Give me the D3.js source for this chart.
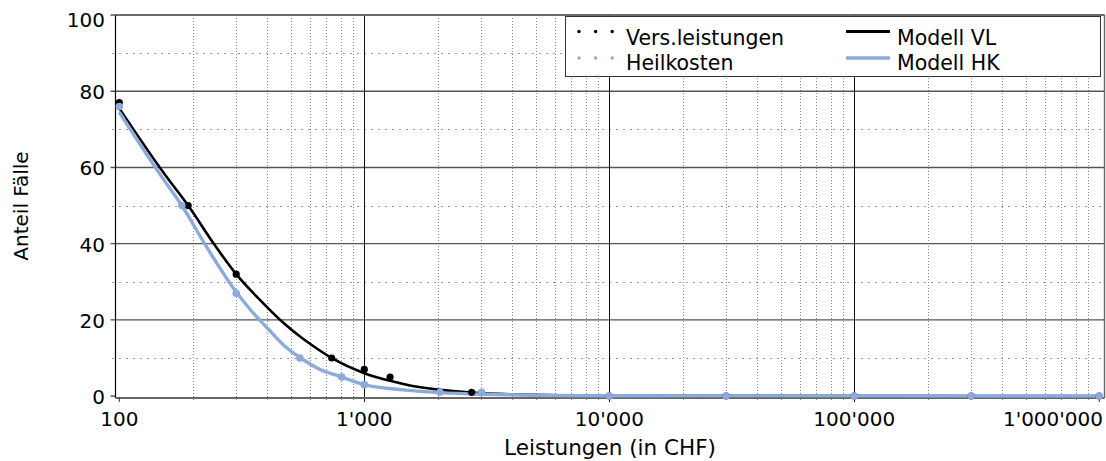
<!DOCTYPE html>
<html>
<head>
<meta charset="utf-8">
<script src="https://cdn.jsdelivr.net/npm/d3@7.9.0/dist/d3.min.js"></script>
<style>
    html, body { margin: 0; padding: 0; background: #fff; }
    svg { display: block; font-family: Verdana, "DejaVu Sans", sans-serif; }
</style>
</head>
<body>
<svg id="chart" width="1106" height="461"></svg>
<script>
// observed shares (Anteil Fälle, %) per amount
var obsVLx = [100, 191, 300, 736, 1000, 1274, 2742, 10000, 30000, 100000, 300000, 1000000]
var obsVLy = [77, 50, 32, 10, 7, 5, 1, 0, 0, 0, 0, 0]
var obsHKx = [100, 180, 300, 546, 809, 1000, 2036, 3012, 10000, 30000, 100000, 300000, 1000000]
var obsHKy = [76, 50, 27, 10, 5, 3, 1, 1, 0, 0, 0, 0, 0]

// fitted model curves
var modelVLx = [100, 154, 191, 246, 300, 381, 466, 550, 640, 736, 1000, 1274, 1537, 2000, 2742, 4000, 10000, 1000000]
var modelVLy = [75.5, 58, 50, 39.5, 32, 24.8, 19.3, 15.5, 12.5, 10, 6, 4.0, 2.8, 1.7, 0.9, 0.45, 0.1, 0]
var modelHKx = [100, 151, 180, 223, 300, 350, 400, 470, 550, 650, 809, 1000, 1400, 2036, 3012, 10000, 1000000]
var modelHKy = [74.5, 57, 50, 40, 27.3, 22, 18, 13.3, 10, 7.2, 5, 3, 1.7, 0.9, 0.5, 0.1, 0]

var xTicks = [100, 1000, 10000, 100000, 1000000]
var xTickLabels = ["100", "1'000", "10'000", "100'000", "1'000'000"]
var yTicks = [0, 20, 40, 60, 80, 100]
var yMinor = [10, 30, 50, 70, 90]

var legendItems = [
    { label: 'Vers.leistungen', kind: 'dots', color: '#000' },
    { label: 'Heilkosten', kind: 'dots', color: '#8eaadb' },
    { label: 'Modell VL', kind: 'line', color: '#000' },
    { label: 'Modell HK', kind: 'line', color: '#8eaadb' }
]

var BLUE = '#8eaadb'
var L = 115.5, R = 1104.5, T = 15, B = 398

var svg = d3.select('#chart')
var x = d3.scaleLog().domain([96.5, 1050000]).range([L, R])
var y = d3.scaleLinear().domain([-0.5, 100]).range([B, T])

function zip(xs, ys) {
    return xs.map(function (v, i) { return [v, ys[i]] })
}

// minor x positions 2..9 per decade
var xMinor = []
xTicks.forEach(function (d) {
    for (var k = 2; k <= 9; k++) {
        var v = d * k
        if (v < x.domain()[1]) xMinor.push(v)
    }
})

var grid = svg.append('g')

grid.selectAll('.xminor').data(xMinor).enter().append('line')
    .attr('x1', function (d) { return Math.round(x(d)) + 0.5 })
    .attr('x2', function (d) { return Math.round(x(d)) + 0.5 })
    .attr('y1', T).attr('y2', B + 3)
    .attr('stroke', '#8a8a8a').attr('stroke-width', 1)
    .attr('stroke-dasharray', '1,2')

grid.selectAll('.yminor').data(yMinor).enter().append('line')
    .attr('x1', L - 3).attr('x2', R)
    .attr('y1', function (d) { return Math.round(y(d)) + 0.5 })
    .attr('y2', function (d) { return Math.round(y(d)) + 0.5 })
    .attr('stroke', '#333').attr('stroke-width', 1)
    .attr('stroke-dasharray', '1,6')

grid.selectAll('.ymajor').data(yTicks.slice(1)).enter().append('line')
    .attr('x1', L - 5).attr('x2', R)
    .attr('y1', function (d) { return y(d) })
    .attr('y2', function (d) { return y(d) })
    .attr('stroke', '#555').attr('stroke-width', 1.4)

grid.selectAll('.xmajor').data(xTicks.slice(1, 4)).enter().append('line')
    .attr('x1', function (d) { return Math.round(x(d)) + 0.5 })
    .attr('x2', function (d) { return Math.round(x(d)) + 0.5 })
    .attr('y1', T).attr('y2', B + 4)
    .attr('stroke', '#111').attr('stroke-width', 1)

// frame
svg.append('line').attr('x1', L).attr('x2', L).attr('y1', T).attr('y2', B)
    .attr('stroke', '#000').attr('stroke-width', 1.2)
svg.append('line').attr('x1', R).attr('x2', R).attr('y1', T).attr('y2', B)
    .attr('stroke', '#666').attr('stroke-width', 1.4)
svg.append('line').attr('x1', L).attr('x2', R).attr('y1', T).attr('y2', T)
    .attr('stroke', '#666').attr('stroke-width', 1.4)
svg.append('line').attr('x1', L).attr('x2', R).attr('y1', B).attr('y2', B)
    .attr('stroke', '#666').attr('stroke-width', 1.8)

// y zero tick + x end ticks
svg.append('line').attr('x1', L - 5).attr('x2', L).attr('y1', y(0)).attr('y2', y(0))
    .attr('stroke', '#333').attr('stroke-width', 1.2)
svg.selectAll('.xend').data([xTicks[0], xTicks[4]]).enter().append('line')
    .attr('x1', function (d) { return x(d) }).attr('x2', function (d) { return x(d) })
    .attr('y1', B).attr('y2', B + 4)
    .attr('stroke', '#333').attr('stroke-width', 1)

// model curves
var line = d3.line()
    .x(function (d) { return x(d[0]) })
    .y(function (d) { return y(d[1]) })
    .curve(d3.curveMonotoneX)

svg.append('path').datum(zip(modelVLx, modelVLy))
    .attr('d', line).attr('fill', 'none')
    .attr('stroke', '#000').attr('stroke-width', 2.6)
svg.append('path').datum(zip(modelHKx, modelHKy))
    .attr('d', line).attr('fill', 'none')
    .attr('stroke', BLUE).attr('stroke-width', 3.4)

// observed points
svg.append('g').selectAll('circle').data(zip(obsVLx, obsVLy)).enter().append('circle')
    .attr('cx', function (d) { return x(d[0]) })
    .attr('cy', function (d) { return y(d[1]) })
    .attr('r', 3.6).attr('fill', '#000')
svg.append('g').selectAll('circle').data(zip(obsHKx, obsHKy)).enter().append('circle')
    .attr('cx', function (d) { return x(d[0]) })
    .attr('cy', function (d) { return y(d[1]) })
    .attr('r', 3.8).attr('fill', BLUE)

// y labels
svg.append('g').selectAll('text').data(yTicks).enter().append('text')
    .attr('x', 105)
    .attr('y', function (d) { return Math.max(y(d) + 8, 27) })
    .attr('text-anchor', 'end')
    .attr('font-size', 20)
    .attr('fill', '#000')
    .text(function (d) { return d })

// x labels, last one kept inside the window
var xl = svg.append('g').selectAll('text').data(xTicks).enter().append('text')
    .attr('y', 426)
    .attr('text-anchor', 'middle')
    .attr('font-size', 20)
    .attr('fill', '#000')
    .text(function (d, i) { return xTickLabels[i] })
xl.attr('x', function (d) {
    var w = this.getComputedTextLength()
    return Math.min(x(d), 1103 - w / 2)
})

svg.append('text')
    .attr('x', 610).attr('y', 455)
    .attr('text-anchor', 'middle').attr('font-size', 21.5)
    .text('Leistungen (in CHF)')

svg.append('text')
    .attr('transform', 'translate(28,206) rotate(-90)')
    .attr('text-anchor', 'middle').attr('font-size', 20)
    .text('Anteil Fälle')

// legend
var lg = svg.append('g')
lg.append('rect').attr('x', 565.5).attr('y', 16.5).attr('width', 535).attr('height', 60)
    .attr('fill', '#fff').attr('stroke', '#333').attr('stroke-width', 1)

legendItems.forEach(function (it, i) {
    var col = Math.floor(i / 2), row = i % 2
    var sx = col === 0 ? 579 : 846
    var sy = row === 0 ? 31.5 : 58
    var g = lg.append('g')
    if (it.kind === 'dots') {
        [0, 16.6, 33.2].forEach(function (dx) {
            g.append('circle').attr('cx', sx + dx).attr('cy', sy).attr('r', 1.7).attr('fill', it.color)
        })
    } else {
        g.append('line').attr('x1', sx).attr('x2', sx + 44).attr('y1', sy).attr('y2', sy)
            .attr('stroke', it.color).attr('stroke-width', it.color === BLUE ? 3.4 : 2.8)
    }
    g.append('text')
        .attr('x', col === 0 ? 626 : 897)
        .attr('y', row === 0 ? 44.5 : 69.8)
        .attr('font-size', 20.5)
        .text(it.label)
})
</script>
</body>
</html>
